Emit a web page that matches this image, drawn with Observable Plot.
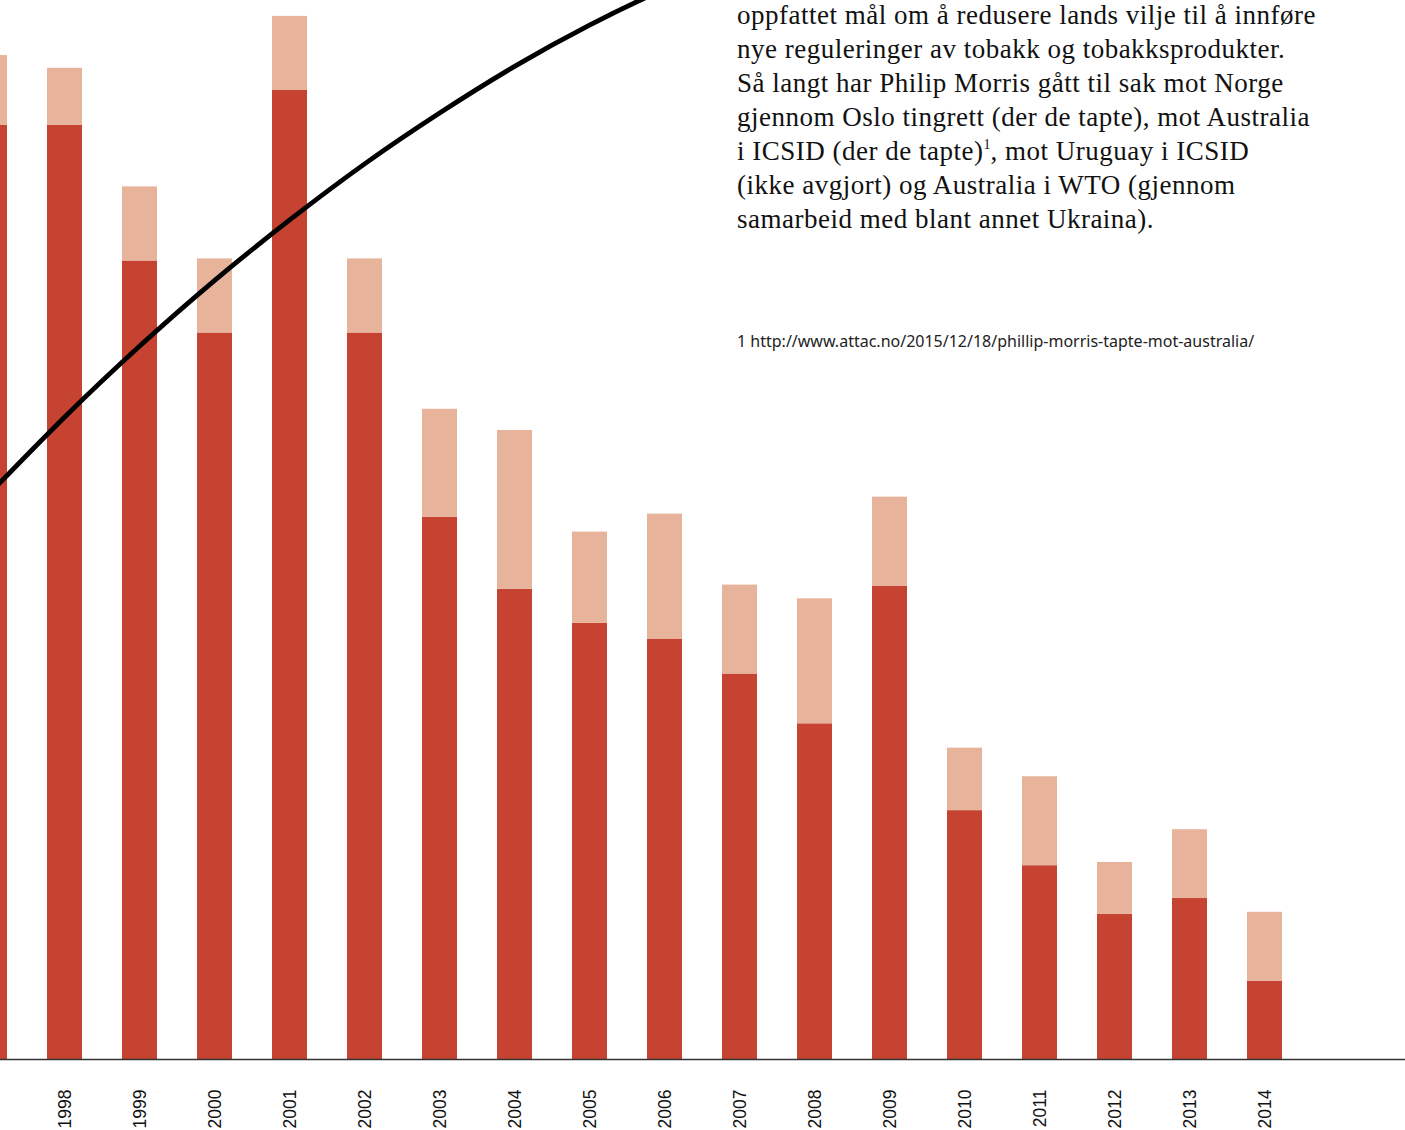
<!DOCTYPE html>
<html>
<head>
<meta charset="utf-8">
<script src="https://cdn.jsdelivr.net/npm/d3@7"></script>
<script src="https://cdn.jsdelivr.net/npm/@observablehq/plot@0.6"></script>
<style>
  html, body { margin: 0; padding: 0; background: #fff; }
  #wrap { position: relative; width: 1405px; height: 1130px; overflow: hidden; }
  #chart { position: absolute; left: 0; top: 0; }
  #body-text { position: absolute; left: 737px; top: -1.8px; font-family: "Liberation Serif", "DejaVu Serif", serif; font-size: 27px; letter-spacing: 0.5px; line-height: 34px; color: #111; white-space: nowrap; }
  #body-text sup { font-size: 14px; line-height: 0; vertical-align: 11px; letter-spacing: 0; }
  #footnote { position: absolute; left: 737px; top: 330px; font-family: "Noto Sans", Lato, sans-serif; font-size: 16px; color: #222; white-space: nowrap; }
</style>
</head>
<body>
<div id="wrap">
  <div id="chart"></div>
  <div id="body-text">oppfattet mål om å redusere lands vilje til å innføre<br>nye reguleringer av tobakk og tobakksprodukter.<br>Så langt har Philip Morris gått til sak mot Norge<br>gjennom Oslo tingrett (der de tapte), mot Australia<br>i ICSID (der de tapte)<sup>1</sup>, mot Uruguay i ICSID<br>(ikke avgjort) og Australia i WTO (gjennom<br>samarbeid med blant annet Ukraina).</div>
  <div id="footnote">1 http://www.attac.no/2015/12/18/phillip-morris-tapte-mot-australia/</div>
</div>
<script>
const years = ["1997","1998","1999","2000","2001","2002","2003","2004","2005","2006","2007","2008","2009","2010","2011","2012","2013","2014"];
const tickYears = ["1998","1999","2000","2001","2002","2003","2004","2005","2006","2007","2008","2009","2010","2011","2012","2013","2014"];
const darkValues  = [88.2, 88.2, 75.4, 68.6, 91.5, 68.6, 51.2, 44.4, 41.2, 39.7, 36.4, 31.7, 44.7, 23.5, 18.3, 13.7, 15.2, 7.4];
const lightValues = [6.6, 5.4, 7.0, 7.0, 7.0, 7.0, 10.2, 15.0, 8.6, 11.8, 8.4, 11.8, 8.4, 5.9, 8.4, 4.9, 6.5, 6.5];
const lineYears  = ["1997","1998","1999","2000","2001","2002","2003","2004","2005","2006","2007","2008"];
const lineValues = [53.5, 60.7, 67.4, 73.6, 79.3, 84.6, 89.4, 93.8, 97.7, 101.1, 104.0, 106.5];
const seriesNames = ["mørk", "lys"];
const seriesColors = ["#c64332", "#e8b39b"];

const bars = [];
years.forEach((yr, i) => {
  bars.push({year: yr, series: seriesNames[0], value: darkValues[i]});
  bars.push({year: yr, series: seriesNames[1], value: lightValues[i]});
});
const line = lineYears.map((yr, i) => ({year: yr, value: lineValues[i]}));

const chart = Plot.plot({
  width: 1405,
  height: 1130,
  marginLeft: 0,
  marginRight: 0,
  marginTop: 0,
  marginBottom: 71,
  style: {fontFamily: "Liberation Sans, Arial, sans-serif", background: "transparent"},
  x: {domain: years, range: [-69.2, 1323.2], padding: 0.534, label: null},
  y: {domain: [0, 100], axis: null},
  color: {domain: seriesNames, range: seriesColors},
  marks: [
    Plot.barY(bars, {x: "year", y: "value", fill: "series", order: seriesNames}),
    Plot.line(line, {x: "year", y: "value", stroke: "#000", strokeWidth: 4.8, curve: "natural", clip: true}),
    Plot.ruleY([0], {stroke: "#333", strokeWidth: 1.5}),
    Plot.axisX({ticks: tickYears, tickRotate: -90, tickSize: 0, tickPadding: 30, fontSize: 17.5, fill: "#111", label: null})
  ]
});
document.getElementById("chart").appendChild(chart);
</script>
</body>
</html>
